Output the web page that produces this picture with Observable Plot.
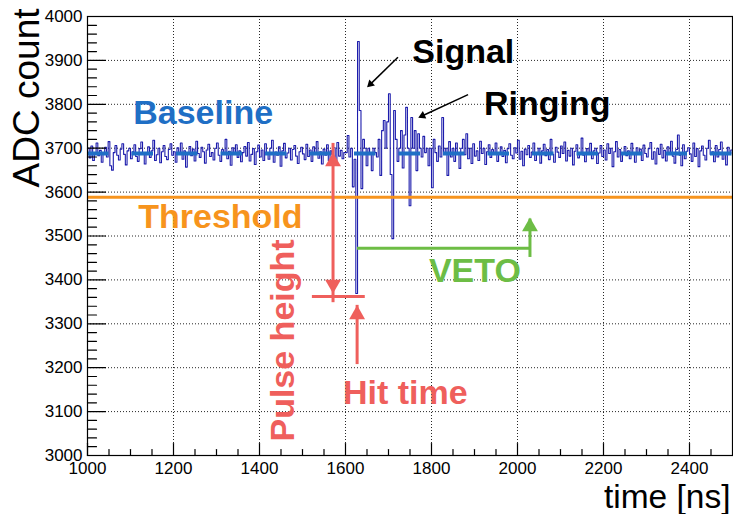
<!DOCTYPE html>
<html><head><meta charset="utf-8">
<script src="https://cdn.jsdelivr.net/npm/d3@7"></script>
<script src="https://cdn.jsdelivr.net/npm/@observablehq/plot@0.6"></script>
<style>html,body{margin:0;padding:0;background:#fff;} #chart svg{display:block}</style>
</head><body><div id="chart"></div>
<script>
// ---- data ----
const startTime = 1000;   // ns
const binWidth = 4;       // ns per sample
const adcValues = [
  // 1000-1596
  3700,3678,3705,3672,3690,3712,3683,3695,3668,3688,3702,3680,3715,3660,3650,3690,3706,3684,3673,3698,3710,3686,3662,3694,3700,
  3676,3692,3708,3681,3670,3699,3714,3688,3664,3690,3703,3679,3694,3718,3672,3685,3700,3667,3692,3706,3681,3674,3697,3710,3684,
  3692,3668,3701,3686,3712,3675,3694,3657,3690,3704,3683,3698,3671,3716,3688,3679,3702,3692,3666,3696,3709,3681,3690,3673,3700,
  3712,3684,3670,3697,3688,3720,3676,3693,3661,3701,3687,3708,3679,3694,3669,3690,3704,3682,3713,3671,3686,3699,3663,3692,3707,
  3680,3696,3672,3710,3689,3675,3700,3718,3668,3691,3684,3703,3659,3694,3711,3678,3689,3700,3673,3697,3706,3682,3665,3692,3702,
  3687,3674,3709,3681,3696,3670,3703,3690,3715,3677,3692,3664,3698,3684,3708,3672,3694,3686,3701,3668,3713,3682,3695,3676,3690,
  // 1600: pulse and ringing
  3690,3729,3680,3700,3612,3675,3369,3943,3786,3608,
  3720,3700,3660,3700,3690,3649,3700,3690,3680,3720,
  3638,3740,3763,3700,3760,3824,3640,3494,3786,3720,
  3670,3700,3740,3655,3730,3793,3700,3569,3770,3700,
  3740,3649,3733,3700,3680,3727,3690,3700,3660,3700,
  3610,3720,3690,3670,3705,3680,3770,3690,3700,3638,
  3715,3680,3700,3670,3712,3690,3654,3700,3720,3685,
  3733,3676,3700,3665,3710,
  // 1900-2496
  3682,3694,3672,3716,3688,3700,3663,3692,3708,3679,3697,3686,3712,3670,3690,3703,3681,3695,3667,3699,3710,3684,3676,3701,3689,
  3718,3675,3693,3660,3698,3685,3706,3679,3691,3712,3672,3688,3700,3666,3694,3709,3683,3697,3674,3720,3686,3668,3702,3691,3679,
  3705,3688,3714,3671,3695,3682,3700,3662,3693,3708,3678,3690,3723,3684,3669,3699,3687,3711,3676,3694,3700,3665,3689,3706,3681,
  3696,3673,3710,3688,3700,3658,3692,3715,3680,3697,3670,3689,3704,3683,3694,3676,3711,3690,3668,3701,3686,3698,3672,3707,3688,
  3680,3699,3713,3675,3692,3664,3700,3686,3709,3678,3695,3671,3703,3689,3716,3682,3666,3697,3730,3684,3660,3708,3676,3693,3701,
  3687,3670,3712,3681,3699,3658,3694,3705,3684,3673,3700,3718,3686,3692,3669,3706,3680,3697,3714,3675,3690,3662,3702,3688,3696
];
const baselineADC = 3688;
const thresholdADC = 3588;
const xTickLabels = [1000, 1200, 1400, 1600, 1800, 2000, 2200, 2400];
const yTickLabels = [3000, 3100, 3200, 3300, 3400, 3500, 3600, 3700, 3800, 3900, 4000];
const xMinorTicks = d3.range(1050, 2500, 50).filter(d => d % 200 !== 0);
const yMinorTicks = d3.range(3020, 4000, 20).filter(d => d % 100 !== 0);

// annotations (data coordinates: time ns, ADC count)
const annText  = ["Signal", "Ringing", "Baseline", "Threshold", "VETO", "Hit time", "Pulse height"];
const annTime  = [1874, 2069, 1269, 1309, 1901, 1739, 1455];
const annADC   = [3920, 3800, 3779, 3542, 3419, 3141, 3262];
const annColor = ["#000000", "#000000", "#1f6fc5", "#f7941d", "#6dbd45", "#ef5f5c", "#ef5f5c"];
const annRotate = [0, 0, 0, 0, 0, 0, -90];

// black pointer arrows: start -> head
const ptrStartTime = [1722, 1885];
const ptrStartADC  = [3907, 3822];
const ptrHeadTime  = [1658, 1779];
const ptrHeadADC   = [3846, 3774];
const ptrAngle     = [226, 245];

// pulse height arrow, hit-time arrow, veto arrow
const pulseArrowTime = 1571, pulseArrowTop = 3690, pulseArrowBottom = 3369;
const pulseBarADC = 3362, pulseBarFrom = 1523, pulseBarTo = 1646;
const hitArrowTime = 1627, hitArrowTip = 3342, hitArrowTail = 3228;
const vetoADC = 3472, vetoFrom = 1628, vetoTo = 2029, vetoTip = 3542;

// ---- build ----
const wavePoints = adcValues.map((v, i) => ({t: startTime + i * binWidth, v}));
wavePoints.push({t: startTime + adcValues.length * binWidth, v: adcValues[adcValues.length - 1]});

const red = "#ef5f5c", green = "#6dbd45", orange = "#f7941d", blueB = "#1f6fc5", waveColor = "#1c1cac";
const font = "'Liberation Sans', Arial, Helvetica, sans-serif";
const tickShape = {draw(ctx, l) { ctx.moveTo(0, 0); ctx.lineTo(0, -l); }};
const headR = 5.9, headOff = 2 * Math.sqrt(headR * headR * Math.PI / (3 * Math.sqrt(3)));
const idx = annText.map((_, i) => i);

const chart = Plot.plot({
  width: 733, height: 514,
  marginLeft: 87, marginRight: 1, marginTop: 16, marginBottom: 59,
  x: {domain: [1000, 2500]},
  y: {domain: [3000, 4000]},
  color: {type: "identity"},
  style: {fontFamily: font, color: "black", background: "white"},
  marks: [
    Plot.gridX(xTickLabels.slice(1), {stroke: "black", strokeOpacity: 0.85, strokeDasharray: "1,2"}),
    Plot.gridY(yTickLabels.slice(1, -1), {stroke: "black", strokeOpacity: 0.85, strokeDasharray: "1,2"}),
    Plot.line(wavePoints, {x: "t", y: "v", curve: "step-after", stroke: waveColor, strokeWidth: 1.1, clip: true}),
    Plot.ruleY([thresholdADC], {stroke: orange, strokeWidth: 3}),
    Plot.ruleY([baselineADC], {stroke: blueB, strokeWidth: 4, strokeDasharray: "21.5,23"}),
    Plot.frame({stroke: "black", strokeWidth: 1.2}),
    // inward ticks
    Plot.vector(xTickLabels, {x: d => d, frameAnchor: "bottom", length: 12, anchor: "start", shape: tickShape, stroke: "black", strokeWidth: 1.2}),
    Plot.vector(xMinorTicks, {x: d => d, frameAnchor: "bottom", length: 6, anchor: "start", shape: tickShape, stroke: "black", strokeWidth: 1.2}),
    Plot.vector(yTickLabels, {y: d => d, frameAnchor: "left", rotate: 90, length: 18, anchor: "start", shape: tickShape, stroke: "black", strokeWidth: 1.2}),
    Plot.vector(yMinorTicks, {y: d => d, frameAnchor: "left", rotate: 90, length: 9, anchor: "start", shape: tickShape, stroke: "black", strokeWidth: 1.2}),
    Plot.axisX(xTickLabels, {tickSize: 0, tickPadding: 6, fontSize: 17, tickFormat: d => `${d}`, label: null}),
    Plot.axisY(yTickLabels, {tickSize: 0, tickPadding: 5, fontSize: 17, tickFormat: d => `${d}`, label: null}),
    Plot.text(["ADC count"], {frameAnchor: "top-left", dx: -49, dy: -8, rotate: -90, textAnchor: "end", lineAnchor: "bottom", fontSize: 37, fill: "black"}),
    Plot.text(["time [ns]"], {frameAnchor: "bottom-right", dx: -2, dy: 52.5, textAnchor: "end", lineAnchor: "bottom", fontSize: 33.5, fill: "black"}),
    // pulse-height arrow
    Plot.ruleX([pulseArrowTime], {y1: pulseArrowBottom, y2: pulseArrowTop, insetTop: headOff, insetBottom: headOff, stroke: red, strokeWidth: 3}),
    Plot.dot([pulseArrowTime], {x: d => d, y: () => pulseArrowTop, dy: headOff, symbol: "triangle", r: headR, fill: red, stroke: null}),
    Plot.dot([pulseArrowTime], {x: d => d, y: () => pulseArrowBottom, dy: -headOff, rotate: 180, symbol: "triangle", r: headR, fill: red, stroke: null}),
    Plot.ruleY([pulseBarADC], {x1: pulseBarFrom, x2: pulseBarTo, stroke: red, strokeWidth: 3}),
    // hit-time arrow
    Plot.ruleX([hitArrowTime], {y1: hitArrowTail, y2: hitArrowTip, insetTop: headOff, stroke: red, strokeWidth: 3}),
    Plot.dot([hitArrowTime], {x: d => d, y: () => hitArrowTip, dy: headOff, symbol: "triangle", r: headR, fill: red, stroke: null}),
    // veto arrow
    Plot.ruleY([vetoADC], {x1: vetoFrom, x2: vetoTo, insetRight: -1.5, stroke: green, strokeWidth: 3}),
    Plot.ruleX([vetoTo], {y1: vetoADC, y2: vetoTip, insetTop: headOff, insetBottom: -1.5, stroke: green, strokeWidth: 3}),
    Plot.dot([vetoTo], {x: d => d, y: () => vetoTip, dy: headOff, symbol: "triangle", r: headR, fill: green, stroke: null}),
    // black pointers
    Plot.link(ptrStartTime.map((_, i) => i), {x1: i => ptrStartTime[i], y1: i => ptrStartADC[i], x2: i => ptrHeadTime[i], y2: i => ptrHeadADC[i], stroke: "black", strokeWidth: 1.5}),
    Plot.dot(ptrStartTime.map((_, i) => i), {x: i => ptrHeadTime[i], y: i => ptrHeadADC[i], rotate: i => ptrAngle[i], symbol: "triangle", r: 3, fill: "black", stroke: null}),
    // annotation labels
    Plot.text(idx, {x: i => annTime[i], y: i => annADC[i], text: i => annText[i], fill: i => annColor[i], rotate: i => annRotate[i], fontSize: 34, fontWeight: "bold"})
  ]
});
document.getElementById("chart").appendChild(chart);
</script>
</body></html>
